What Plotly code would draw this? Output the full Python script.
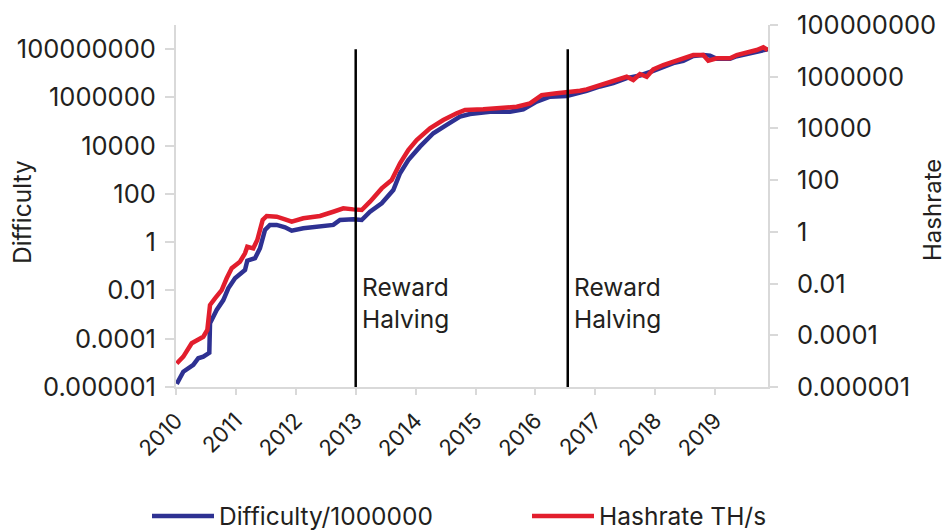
import math
import plotly.graph_objects as go

# ---- data ----
diff_years = [2010.012, 2010.122, 2010.289, 2010.372, 2010.456, 2010.556, 2010.568, 2010.679, 2010.790, 2010.873,
              2010.985, 2011.152, 2011.190, 2011.319, 2011.402, 2011.486, 2011.569, 2011.681, 2011.820, 2011.932,
              2012.125, 2012.404, 2012.626, 2012.738, 2012.960, 2013.100, 2013.239, 2013.434, 2013.628, 2013.740,
              2013.878, 2014.073, 2014.296, 2014.519, 2014.741, 2014.908, 2015.242, 2015.576, 2015.798, 2016.022,
              2016.244, 2016.523, 2016.745, 2016.856, 2017.078, 2017.300, 2017.524, 2017.746, 2017.968, 2018.135,
              2018.302, 2018.469, 2018.636, 2018.803, 2018.915, 2019.027, 2019.249, 2019.361, 2019.528, 2019.695,
              2019.88]
difficulty = [1.33e-6, 4.3e-6, 8.2e-6, 1.55e-5, 1.8e-5, 2.6e-5, 4.4e-4, 1.55e-3, 4.0e-3, 0.0123,
              0.032, 0.0706, 0.171, 0.216, 0.56, 3.2, 5.2, 5.2, 4.15, 3.0,
              3.78, 4.4, 5.2, 8.3, 8.9, 8.3, 18.4, 41, 146, 718,
              2550, 9100, 32700, 72100, 159000, 206000, 256000, 256000, 323000, 667000,
              1.07e6, 1.15e6, 1.57e6, 1.88e6, 2.84e6, 3.89e6, 6.27e6, 8.1e6, 1.27e7, 1.91e7,
              2.62e7, 3.3e7, 5.2e7, 5.7e7, 5.4e7, 4.0e7, 4.0e7, 5.1e7, 6.3e7, 8.0e7,
              9.9e7]

hash_years = [2010.012, 2010.122, 2010.262, 2010.346, 2010.456, 2010.523, 2010.568, 2010.651, 2010.763, 2010.846,
              2010.930, 2011.068, 2011.152, 2011.190, 2011.290, 2011.357, 2011.447, 2011.514, 2011.681, 2011.820,
              2011.932, 2012.125, 2012.404, 2012.626, 2012.793, 2012.960, 2013.100, 2013.239, 2013.434, 2013.601,
              2013.740, 2013.878, 2014.018, 2014.240, 2014.462, 2014.686, 2014.825, 2015.130, 2015.464, 2015.688,
              2015.910, 2016.105, 2016.356, 2016.578, 2016.745, 2016.856, 2017.078, 2017.300, 2017.524, 2017.634,
              2017.746, 2017.858, 2017.968, 2018.135, 2018.302, 2018.469, 2018.636, 2018.803, 2018.886, 2019.027,
              2019.249, 2019.361, 2019.528, 2019.695, 2019.805, 2019.88]
hashrate = [8.2e-6, 1.49e-5, 4.9e-5, 6.6e-5, 8.8e-5, 1.6e-4, 1.48e-3, 2.69e-3, 5.6e-3, 0.016,
            0.039, 0.07, 0.148, 0.266, 0.231, 0.483, 2.87, 4.1, 3.85, 3.05,
            2.47, 3.34, 4.1, 6.0, 8.1, 7.4, 7.0, 14.7, 48, 101,
            447, 1460, 3560, 10100, 21100, 38400, 51500, 54800, 59800, 69000,
            93500, 195000, 228000, 249000, 287000, 325000, 476000, 640000, 998000, 745000,
            1.27e6, 998000, 1.93e6, 2.83e6, 3.8e6, 4.7e6, 6.9e6, 6.9e6, 4.15e6, 5.14e6,
            5.14e6, 6.9e6, 8.45e6, 1.08e7, 1.37e7, 1.08e7]

halving_years = [2013.0, 2016.54]
halving_label = "Reward<br>Halving"
halving_label_level = 0.003  # on the Difficulty axis

year_ticks = list(range(2010, 2020))
y_tickvals = [1e-6, 1e-4, 1e-2, 1, 1e2, 1e4, 1e6, 1e8]
y_ticktext = ["0.000001", "0.0001", "0.01", "1", "100", "10000", "1000000", "100000000"]

FONT = "Inter"
TXT = "#231f20"
GRID = "#d9d9d9"
BLUE = "#2e3192"
RED = "#e21e2d"

PL, PR, PT, PB = 176, 768, 25, 387  # plot area in pixels
W, H = 947, 532

fig = go.Figure()
fig.add_trace(go.Scatter(x=diff_years, y=difficulty, name="Difficulty/1000000", mode="lines",
                         line=dict(color=BLUE, width=4.5), yaxis="y", legend="legend"))
fig.add_trace(go.Scatter(x=hash_years, y=hashrate, name="Hashrate TH/s", mode="lines",
                         line=dict(color=RED, width=4.5), yaxis="y2", legend="legend2"))

for hx in halving_years:
    fig.add_shape(type="line", xref="x", yref="y", x0=hx, x1=hx, y0=1e-6, y1=1e8,
                  line=dict(color="black", width=2.5), layer="above")
    fig.add_annotation(x=hx, y=math.log10(halving_label_level), xref="x", yref="y",
                       text=halving_label, showarrow=False,
                       xanchor="left", yanchor="middle", xshift=4, align="left",
                       font=dict(family=FONT, size=24.5, color=TXT))

# axis titles placed where the reference has them (pixel -> paper)
def px_to_paper(xp, yp):
    return (xp - PL) / (PR - PL), (PB - yp) / (PB - PT)

tx, ty = px_to_paper(22, 212)
fig.add_annotation(x=tx, y=ty, xref="paper", yref="paper", text="Difficulty", showarrow=False,
                   textangle=-90, xanchor="center", yanchor="middle",
                   font=dict(family=FONT, size=24.5, color=TXT))
tx, ty = px_to_paper(932, 210)
fig.add_annotation(x=tx, y=ty, xref="paper", yref="paper", text="Hashrate", showarrow=False,
                   textangle=-90, xanchor="center", yanchor="middle",
                   font=dict(family=FONT, size=24, color=TXT))

legend_common = dict(orientation="h", xanchor="left", yref="container", y=(H - 516) / H,
                     yanchor="middle", xref="container",
                     font=dict(family=FONT, size=24.5, color=TXT), itemwidth=62,
                     bgcolor="rgba(0,0,0,0)")

fig.update_layout(
    width=W, height=H,
    margin=dict(l=PL, r=W - PR, t=PT, b=H - PB, autoexpand=False),
    paper_bgcolor="white", plot_bgcolor="white",
    font=dict(family=FONT, color=TXT),
    showlegend=True,
    legend=dict(x=147 / W, **legend_common),
    legend2=dict(x=527 / W, **legend_common),
    xaxis=dict(range=[2010, 2019.883], tickvals=year_ticks, ticktext=[str(y) for y in year_ticks],
               tickangle=-45, showgrid=False, zeroline=False, showline=True, linecolor=GRID, linewidth=2,
               ticks="outside", ticklen=6, tickcolor=GRID, tickwidth=1.5, automargin=False,
               ticklabelstandoff=4,
               tickfont=dict(family=FONT, size=22, color=TXT)),
    yaxis=dict(type="log", range=[-6, 9], tickvals=y_tickvals, ticktext=y_ticktext,
               showgrid=False, zeroline=False, showline=True, linecolor=GRID, linewidth=2,
               ticks="outside", ticklen=9, tickcolor=GRID, tickwidth=1.5, automargin=False,
               ticklabelstandoff=4,
               tickfont=dict(family=FONT, size=25.5, color=TXT)),
    yaxis2=dict(type="log", range=[-6, 8], tickvals=y_tickvals, ticktext=y_ticktext,
                overlaying="y", side="right",
                showgrid=False, zeroline=False, showline=True, linecolor=GRID, linewidth=2,
                ticks="outside", ticklen=8, tickcolor=GRID, tickwidth=1.5, automargin=False,
                ticklabelstandoff=14,
                tickfont=dict(family=FONT, size=25.5, color=TXT)),
)

fig.write_html("out.html", config={"displayModeBar": False},
               post_script="document.body.style.margin='0';")
